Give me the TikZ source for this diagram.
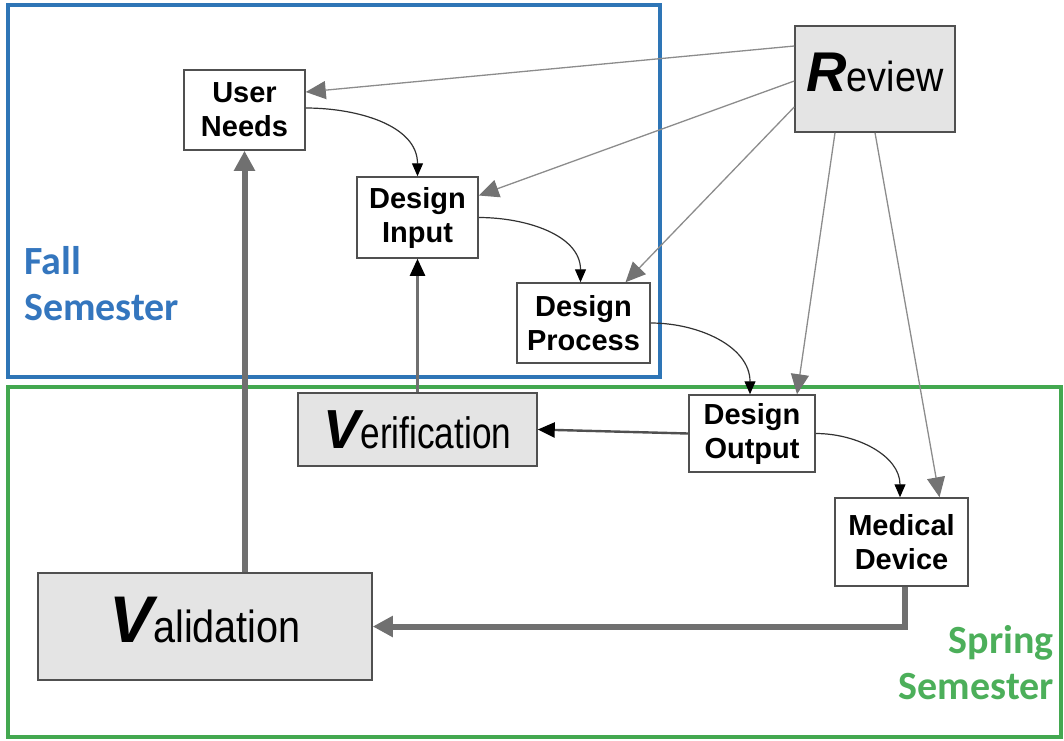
\documentclass[tikz,border=0pt]{standalone}
\usepackage{fontspec}
\usepackage{graphicx}
\setmainfont{Liberation Sans}
\newfontfamily\semfont{Carlito}
\usetikzlibrary{arrows.meta}

\definecolor{fallblue}{RGB}{46,117,182}
\definecolor{falltext}{RGB}{52,118,190}
\definecolor{springgreen}{RGB}{67,168,80}
\definecolor{springtext}{RGB}{76,175,90}
\definecolor{boxgray}{RGB}{228,228,228}
\definecolor{edgegray}{RGB}{80,80,80}
\definecolor{revline}{RGB}{140,140,140}
\definecolor{revtip}{RGB}{115,115,115}
\definecolor{flowline}{RGB}{50,50,50}
\definecolor{thickgray}{RGB}{112,112,112}

\tikzset{
  stepbox/.style={draw=edgegray, line width=1.5pt, fill=white, inner sep=0pt,
    align=center, font=\bfseries\fontsize{29}{34}\selectfont},
  bigbox/.style={draw=edgegray, line width=1.5pt, fill=boxgray, inner sep=0pt},
  semlabel/.style={inner sep=0pt, font=\semfont\bfseries\fontsize{40}{46}\selectfont},
  revarrow/.style={draw=revline, line width=1.3pt,
    -{Triangle[length=20pt,width=18pt,color=revtip,fill=revtip]}},
  flowarrow/.style={draw=flowline, line width=1.2pt,
    -{Triangle[length=13pt,width=11pt,color=black,fill=black]}},
  midarrow/.style={line width=2.4pt,
    -{Triangle[length=17pt,width=15pt,color=black,fill=black]}},
  thickarrow/.style={draw=thickgray, line width=6pt,
    -{Triangle[length=20pt,width=20pt,color=thickgray,fill=thickgray]}}
}

\begin{document}
\begin{tikzpicture}[x=1pt,y=-1pt]
\useasboundingbox (0,0) rectangle (1064,740);

% semester frames
\draw[fallblue, line width=3.2pt] (8,5) rectangle (660,377);
\draw[springgreen, line width=3.2pt] (8,387) rectangle (1061,737);

\node[semlabel, text=falltext, anchor=north west, align=left] (fall) at (24,246) {Fall\\Semester};
\node[semlabel, text=springtext, anchor=north east, align=right] (spring) at (1054,625) {Spring\\Semester};

% process steps
\node[stepbox, minimum width=121pt, minimum height=80pt] (un) at (244.5,110) {User\\Needs};
\node[stepbox, minimum width=121pt, minimum height=81pt] (di) at (417.5,217.5) {Design\\Input};
\node[stepbox, minimum width=133pt, minimum height=80pt] (dp) at (583.5,323) {Design\\Process};
\node[stepbox, minimum width=126pt, minimum height=77pt] (do) at (752,433.5) {Design\\Output};
\node[stepbox, minimum width=133pt, minimum height=88pt] (md) at (901.5,542) {Medical\\Device};

% review, verification and validation
\node[bigbox, minimum width=160pt, minimum height=106pt, text depth=14pt] (rev) at (875,79)
  {\fontsize{56}{56}\selectfont\bfseries\itshape R\scalebox{0.9}[1]{\fontsize{42}{42}\selectfont\mdseries\upshape eview}};
\node[bigbox, minimum width=239pt, minimum height=73pt] (ver) at (417.5,429.5)
  {\fontsize{55}{55}\selectfont\bfseries\itshape V\scalebox{0.8}[1]{\fontsize{44}{44}\selectfont\mdseries\upshape erification}};
\node[bigbox, minimum width=334pt, minimum height=107pt, text depth=14pt] (val) at (205,626.5)
  {\fontsize{66}{66}\selectfont\bfseries\itshape V\scalebox{0.88}[1]{\fontsize{45}{45}\selectfont\mdseries\upshape alidation}};

% review links
\draw[revarrow] ([yshift=33pt]rev.west) -- ([yshift=18pt]un.east);
\draw[revarrow] ([yshift=-2pt]rev.west) -- ([yshift=22pt]di.east);
\draw[revarrow] ([yshift=-28pt]rev.west) -- ([xshift=42pt]dp.north);
\draw[revarrow] ([xshift=-40pt]rev.south) -- ([xshift=45pt]do.north);
\draw[revarrow] (rev.south) -- ([xshift=38pt]md.north);

% design flow
\draw[flowarrow] ([yshift=2pt]un.east) to[out=0,in=90] (di.north);
\draw[flowarrow] (di.east) to[out=0,in=90] ([xshift=-3pt]dp.north);
\draw[flowarrow] (dp.east) to[out=0,in=90] ([xshift=-2pt]do.north);
\draw[flowarrow] (do.east) to[out=0,in=90] ([xshift=-1.5pt]md.north);

% verification and validation paths
\draw[midarrow, draw=edgegray] (do.west) -- (ver.east);
\draw[midarrow, draw=thickgray] (ver.north) -- (di.south);
\draw[thickarrow] (val.north -| un.south) -- (un.south);
\draw[thickarrow] ([xshift=3pt]md.south) |- (val.east);
\end{tikzpicture}
\end{document}
